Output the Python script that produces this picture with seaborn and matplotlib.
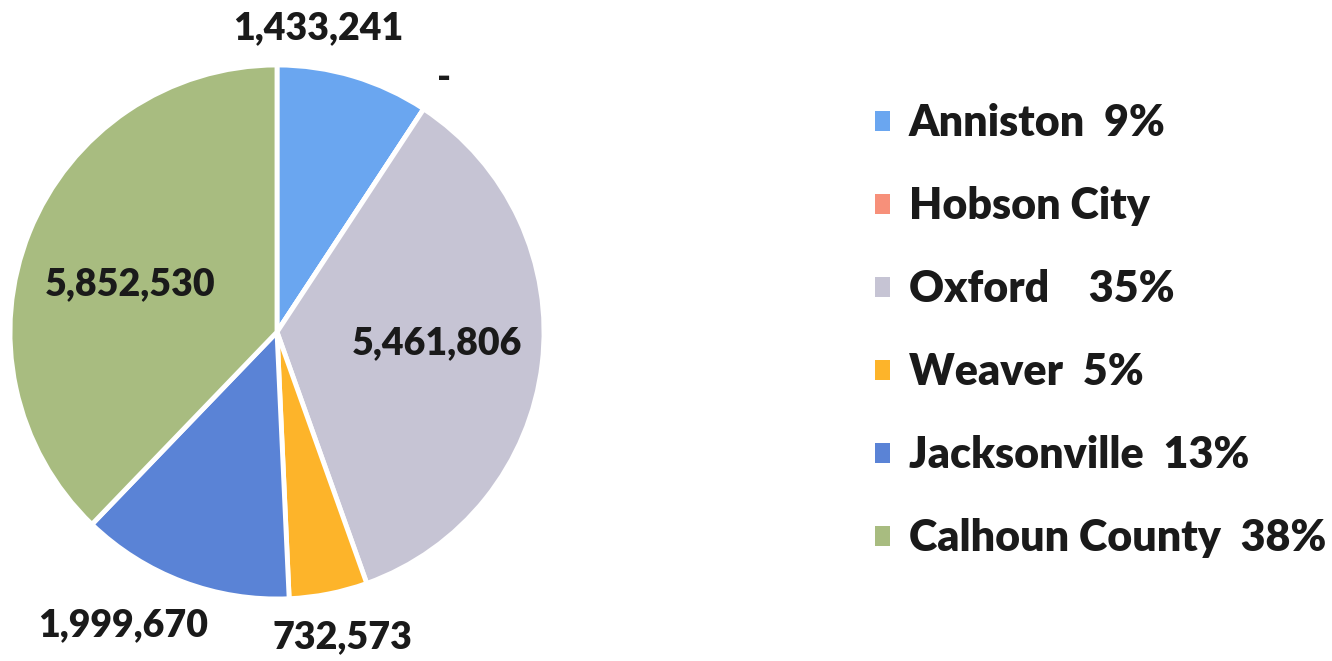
import numpy as np
import matplotlib
matplotlib.use("Agg")
import matplotlib.pyplot as plt
from matplotlib.patches import Patch
import seaborn as sns

# ---- data ----
cities = ["Anniston", "Hobson City", "Oxford", "Weaver", "Jacksonville", "Calhoun County"]
values = [1433241, 0, 5461806, 732573, 1999670, 5852530]
legend_labels = ["Anniston  9%", "Hobson City", "Oxford    35%", "Weaver  5%",
                 "Jacksonville  13%", "Calhoun County  38%"]
colors_hex = ["#6aa6f0", "#f7907a", "#c6c4d4", "#fdb42a", "#5a83d6", "#a8bc80"]

# ---- style ----
sns.set_theme(style="white")
plt.rcParams["font.family"] = ["Lato", "DejaVu Sans"]
palette = sns.color_palette(colors_hex)

W, H = 1332, 661
fig = plt.figure(figsize=(W / 100, H / 100), dpi=100)
ax = fig.add_axes([0, 0, 1, 1])

cx, cy, R = 277, H - 332, 267
wedges, _ = ax.pie(values, colors=palette, startangle=90, counterclock=False,
                   center=(cx, cy), radius=R,
                   wedgeprops=dict(edgecolor="white", linewidth=3.5))
ax.set_xlim(0, W)
ax.set_ylim(0, H)
ax.set_aspect("equal")
ax.axis("off")

# data labels (Excel "best fit" style placement)
dist = [1.15, 1.14, 0.60, 1.17, 1.24, 0.58]
nudge = [9, 0, 3, 1, -7, 4]
for w, v, d, n in zip(wedges, values, dist, nudge):
    ang = np.deg2rad((w.theta1 + w.theta2) / 2 + n)
    txt = f"{v:,}" if v > 0 else "-"
    ax.text(cx + d * R * np.cos(ang), cy + d * R * np.sin(ang), txt,
            ha="center", va="center", fontsize=27, fontweight="heavy", color="#1a1a1a")

handles = [Patch(facecolor=c, edgecolor="none") for c in palette]
leg = fig.legend(handles, legend_labels, loc="upper left",
                 bbox_to_anchor=(875 / W, 1 - 103 / H), frameon=False,
                 prop=dict(weight="heavy", size=31),
                 handlelength=0.34, handleheight=0.34, handletextpad=0.45,
                 labelspacing=1.0, borderpad=0, borderaxespad=0)
for t in leg.get_texts():
    t.set_color("#1a1a1a")

fig.savefig("out.png", dpi=100, facecolor="white")
